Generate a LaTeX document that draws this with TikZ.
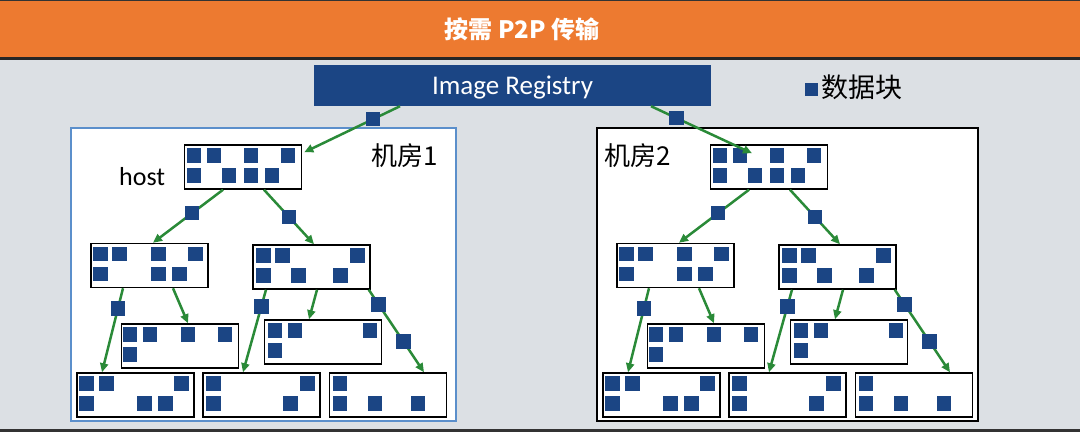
\documentclass[tikz,border=0pt]{standalone}
\usepackage{fontspec}
\setmainfont{Carlito}
\newfontfamily\cjk{Noto Sans CJK SC}
\usetikzlibrary{arrows.meta,positioning,calc}

\definecolor{barorange}{HTML}{ED7A30}
\definecolor{slidegray}{HTML}{DCE0E4}
\definecolor{regblue}{HTML}{1B4584}
\definecolor{flowgreen}{HTML}{2A8A38}
\definecolor{roomblue}{HTML}{5B8FCB}

% data blocks of one host: first row, second row (offsets from the left edge)
\newcommand{\blocks}[3]{%
  \foreach \dx in {#2} \fill[regblue] ($(#1.north west)+(\dx,4)$) rectangle ++(14.5,14.5);
  \foreach \dx in {#3} \fill[regblue] ($(#1.north west)+(\dx,24)$) rectangle ++(14.5,14.5);}

\begin{document}
\begin{tikzpicture}[>=Latex,x=1pt,y=-1pt,
  host/.style={draw=black,line width=1.5pt,fill=white,minimum width=117pt,minimum height=44pt,inner sep=0pt},
  pkt/.style={fill=regblue,minimum size=14.5pt,inner sep=0pt},
  flow/.style={draw=flowgreen,line width=2.5pt,-{Triangle[length=9pt,width=8pt]}},
  roomname/.style={font=\cjk\fontsize{26}{30}\selectfont,inner sep=0pt}]
  \useasboundingbox (0,0) rectangle (1080,432);
  \fill[slidegray] (0,0) rectangle (1080,432);
  \fill[barorange] (0,0) rectangle (1080,57);
  \fill[black!85] (0,57) rectangle (1080,60);
  \fill[black!80] (0,0) rectangle (1080,1);
  \fill[black!80] (0,429) rectangle (1080,432);

  \node[text=white,font=\cjk\bfseries\fontsize{24}{28}\selectfont] (title) at (522,29) {按需 P2P 传输};
  \node[fill=regblue,text=white,minimum width=397pt,minimum height=41pt,inner sep=0pt,
        text height=23pt,text depth=5pt,font=\fontsize{27}{32}\selectfont] (reg) at (512.5,85.5) {Image Registry};
  \node[pkt,minimum size=13pt] (legsq) at (811.5,89.5) {};
  \node[right=3pt of legsq,yshift=2.5pt,font=\cjk\fontsize{27}{32}\selectfont,inner sep=0pt] (legend) {数据块};

  \node[draw=roomblue,line width=1.2pt,fill=white,minimum width=385pt,minimum height=293pt,inner sep=0pt] (room1) at (263.5,274.5) {};
  \node[draw=black,line width=1.5pt,fill=white,minimum width=381pt,minimum height=293pt,inner sep=0pt] (room2) at (787.5,274.5) {};

  \foreach \r/\sh in {1/0,2/526} {
    \node[host] (top\r) at (243+\sh,167) {};
    \node[host] (l2a\r) at (149.5+\sh,265.5) {};
    \node[host] (l2b\r) at (311.5+\sh,267) {};
    \node[host] (l3a\r) at (180+\sh,346) {};
    \node[host] (l3b\r) at (323+\sh,342) {};
    \node[host] (l4a\r) at (135.5+\sh,395) {};
    \node[host] (l4b\r) at (261.5+\sh,395) {};
    \node[host] (l4c\r) at (388+\sh,395) {};
    \blocks{top\r}{3,23,60,97}{3,38,60,81}
    \blocks{l2a\r}{3,22,61,98}{3,61,82}
    \blocks{l2b\r}{4,23,98}{4,39,81}
    \blocks{l3a\r}{2,22,60,97}{2}
    \blocks{l3b\r}{4,24,99}{4}
    \blocks{l4a\r}{3,23,98}{3,61,82}
    \blocks{l4b\r}{4,98}{4,81}
    \blocks{l4c\r}{4}{4,39,82}
    \draw[flow] ([xshift=-20pt]top\r.south) -- node[pkt,pos=.44] (pa\r) {} ([xshift=3.5pt]l2a\r.north);
    \draw[flow] ([xshift=21pt]top\r.south) -- node[pkt,pos=.5] (pb\r) {} ([xshift=2.5pt]l2b\r.north);
    \draw[flow] ([xshift=-26.5pt]l2a\r.south) -- node[pkt,pos=.24] (pc\r) {} ([xshift=-33.5pt]l4a\r.north);
    \draw[flow] ([xshift=23.5pt]l2a\r.south) -- ([xshift=8pt]l3a\r.north);
    \draw[flow] ([xshift=-45.5pt]l2b\r.south) -- node[pkt,pos=.2] (pd\r) {} ([xshift=-18.5pt]l4b\r.north);
    \draw[flow] ([xshift=5.5pt]l2b\r.south) -- ([xshift=-14pt]l3b\r.north);
    \draw[flow] ([xshift=-2pt]l2b\r.south east) -- node[pkt,pos=.18] (pe\r) {} node[pkt,pos=.63] (pf\r) {} ([xshift=36pt]l4c\r.north);
  }

  \draw[flow] ([xshift=-112.5pt]reg.south) -- node[pkt,pos=.28] (pr1) {} ([xshift=2pt,yshift=-8pt]top1.north east);
  \draw[flow] ([xshift=138.5pt]reg.south) -- node[pkt,pos=.25] (pr2) {} ([xshift=-17pt,yshift=-9pt]top2.north);

  \node[roomname,anchor=west] (name1) at (371,156) {机房1};
  \node[roomname,anchor=west] (name2) at (604,156) {机房2};
  \node[anchor=base west,inner sep=0pt,font=\fontsize{26}{30}\selectfont] (hostlbl) at (119,185) {host};
\end{tikzpicture}
\end{document}
